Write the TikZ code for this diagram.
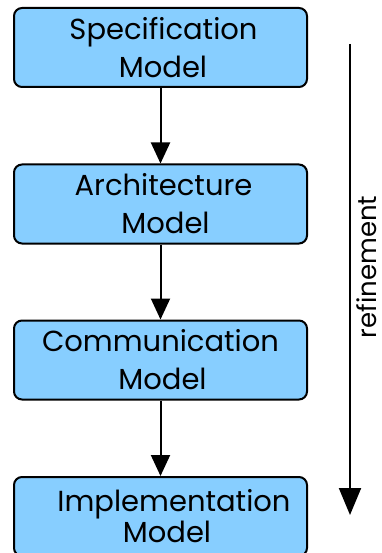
\documentclass[tikz,border=0pt]{standalone}
\usepackage{fontspec}
\setmainfont{Poppins}
\usetikzlibrary{arrows.meta}
\definecolor{boxblue}{RGB}{135,206,255}
\tikzset{
  model/.style={draw=black, line width=2pt, fill=boxblue, rounded corners=8pt,
    minimum width=293pt, minimum height=79pt, inner sep=0pt, align=center,
    font=\fontsize{29}{38}\selectfont},
  flow/.style={line width=2pt, -{Triangle[width=19pt,length=21pt]}}
}
\begin{document}
\begin{tikzpicture}[x=1pt,y=-1pt]
  \useasboundingbox (0,0) rectangle (382,553);
  % the four models
  \node[model] (spec) at (160.5,47.5) {\hspace*{6pt}Specification\\\hspace*{5pt}Model};
  \node[model] (arch) at (160.5,204) {\hspace*{6pt}Architecture\\\hspace*{10pt}Model};
  \node[model] (comm) at (160.5,360) {Communication\\\hspace*{4pt}Model};
  \node[model, font=\fontsize{29}{31}\selectfont] (impl) at (160.5,516.5)
    {\hspace*{27pt}Implementation\\\hspace*{13pt}Model};
  \draw[flow] (spec) -- (arch);
  \draw[flow] (arch) -- (comm);
  \draw[flow] (comm) -- (impl);
  % refinement arrow
  \coordinate (rtop) at (350,44);
  \coordinate (rbot) at (350,515);
  \draw[line width=2pt, -{Triangle[width=22pt,length=27pt]}] (rtop) -- (rbot);
  \node[rotate=90, anchor=base, inner sep=0pt, font=\fontsize{26}{30}\selectfont]
    (refine) at (376,267) {refinement};
\end{tikzpicture}
\end{document}
